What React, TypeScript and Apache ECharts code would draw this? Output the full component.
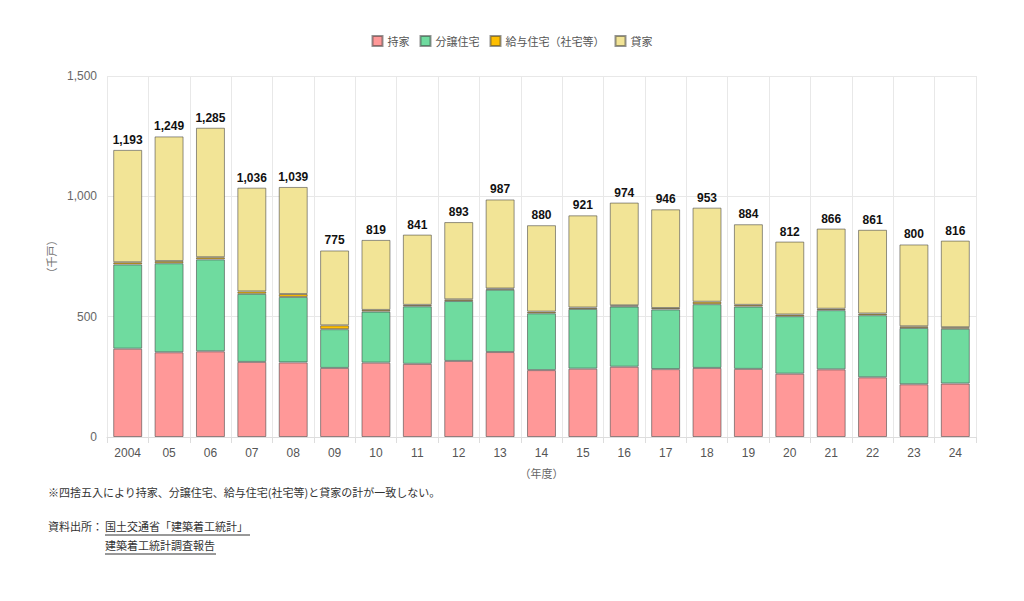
import React, { useEffect, useRef } from "react";
import * as echarts from "echarts";

const categories = ["2004", "05", "06", "07", "08", "09", "10", "11", "12", "13", "14", "15", "16", "17", "18", "19", "20", "21", "22", "23", "24"];
const mochiie = [367, 352, 356, 312, 310, 287, 309, 304, 316, 353, 278, 284, 292, 282, 287, 283, 263, 281, 248, 219, 222];
const bunjou = [350, 370, 382, 283, 272, 161, 212, 239, 249, 259, 236, 248, 250, 248, 265, 259, 239, 246, 258, 234, 228];
const kyuyo = [9, 9, 9, 10, 12, 16, 7, 6, 7, 5, 7, 6, 5, 6, 10, 7, 7, 6, 7, 7, 6];
const kashiya = [467, 518, 538, 431, 445, 311, 291, 292, 321, 370, 359, 383, 427, 410, 391, 335, 303, 333, 348, 340, 360];
const totals = [1193, 1249, 1285, 1036, 1039, 775, 819, 841, 893, 987, 880, 921, 974, 946, 953, 884, 812, 866, 861, 800, 816];
const yTicks = [0, 500, 1000, 1500];

const FONT = 'Arial, "Liberation Sans", "Noto Sans CJK JP", sans-serif';
const JP = '"Noto Sans CJK JP", "Liberation Sans", sans-serif';

export default function App() {
  const ref = useRef<HTMLDivElement>(null);
  useEffect(() => {
    if (!ref.current) return;
    const chart = echarts.init(ref.current, undefined, { renderer: "svg" });
    const border = { borderColor: "rgba(60,60,60,0.55)", borderWidth: 1 };
    const mk = (name: string, data: number[], color: string, extra: any = {}) => ({
      name,
      type: "bar",
      stack: "total",
      data,
      barCategoryGap: "30%",
      itemStyle: { color, ...border },
      ...extra,
    });
    chart.setOption({
      animation: false,
      textStyle: { fontFamily: FONT },
      legend: {
        top: 30,
        left: "center",
        icon: "rect",
        itemWidth: 10,
        itemHeight: 10,
        itemGap: 10,
        textStyle: { fontSize: 11, color: "#555", fontFamily: JP },
        data: ["持家", "分譲住宅", "給与住宅（社宅等）", "貸家"],
      },
      grid: { left: 107, right: 48, top: 76, bottom: 164 },
      xAxis: {
        type: "category",
        data: categories,
        name: "（年度）",
        nameLocation: "middle",
        nameGap: 30,
        nameTextStyle: { color: "#666", fontSize: 11, fontFamily: JP },
        axisLine: { lineStyle: { color: "#ddd" } },
        axisTick: { show: true, length: 6, lineStyle: { color: "#ddd" } },
        axisLabel: { color: "#555", fontSize: 12, margin: 10 },
        splitLine: { show: true, lineStyle: { color: "#e8e8e8" } },
      },
      yAxis: {
        type: "value",
        min: 0,
        max: 1500,
        interval: 500,
        name: "（千戸）",
        nameLocation: "middle",
        nameGap: 38,
        nameRotate: 90,
        nameTextStyle: { color: "#777", fontSize: 11, fontFamily: JP },
        axisLine: { show: false },
        axisTick: { show: false },
        axisLabel: {
          color: "#666",
          fontSize: 12,
          margin: 10,
          formatter: (v: number) => (yTicks.includes(v) ? v.toLocaleString("en-US") : ""),
        },
        splitLine: { lineStyle: { color: "#e8e8e8" } },
      },
      series: [
        mk("持家", mochiie, "#FF9898"),
        mk("分譲住宅", bunjou, "#6FDB9F"),
        mk("給与住宅（社宅等）", kyuyo, "#FFBF00"),
        mk("貸家", kashiya, "#F2E496", {
          label: {
            show: true,
            position: "top",
            distance: 4,
            color: "#111",
            fontWeight: "bold",
            fontSize: 12,
            fontFamily: FONT,
            formatter: (p: any) => totals[p.dataIndex].toLocaleString("en-US"),
          },
        }),
      ],
      graphic: [
        {
          type: "text",
          left: 48,
          top: 486,
          style: { text: "※四捨五入により持家、分譲住宅、給与住宅(社宅等)と貸家の計が一致しない。", fontSize: 11, fill: "#333", fontFamily: JP },
        },
        {
          type: "text",
          left: 48,
          top: 520,
          style: { text: "資料出所：", fontSize: 11, fill: "#333", fontFamily: JP },
        },
        {
          type: "text",
          left: 105,
          top: 520,
          style: { text: "国土交通省「建築着工統計」", fontSize: 11, fill: "#333", fontFamily: JP },
        },
        { type: "line", shape: { x1: 105, y1: 535, x2: 250, y2: 535 }, style: { stroke: "#333", lineWidth: 1 } },
        {
          type: "text",
          left: 105,
          top: 539,
          style: { text: "建築着工統計調査報告", fontSize: 11, fill: "#333", fontFamily: JP },
        },
        { type: "line", shape: { x1: 105, y1: 554, x2: 216, y2: 554 }, style: { stroke: "#333", lineWidth: 1 } },
      ],
    });
    return () => chart.dispose();
  }, []);
  return <div ref={ref} style={{ position: "absolute", left: 0, top: 0, width: 1024, height: 601 }} />;
}
